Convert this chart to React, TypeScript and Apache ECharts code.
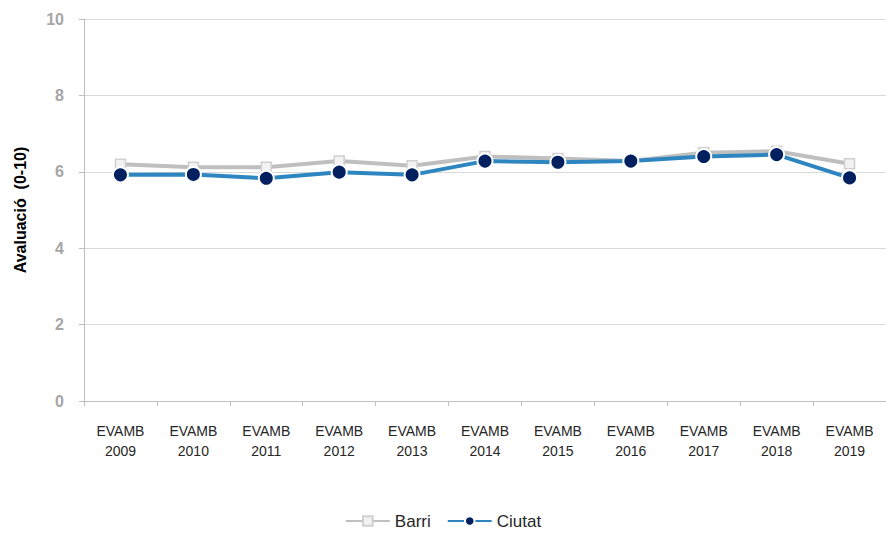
import React, { useEffect, useRef } from "react";
import * as echarts from "echarts";

const categories = ["EVAMB\n2009", "EVAMB\n2010", "EVAMB\n2011", "EVAMB\n2012", "EVAMB\n2013", "EVAMB\n2014", "EVAMB\n2015", "EVAMB\n2016", "EVAMB\n2017", "EVAMB\n2018", "EVAMB\n2019"];
const barri = [6.2, 6.12, 6.12, 6.28, 6.16, 6.4, 6.35, 6.28, 6.5, 6.54, 6.21];
const ciutat = [5.92, 5.93, 5.83, 5.99, 5.92, 6.28, 6.25, 6.28, 6.4, 6.45, 5.84];
const yTicks = { min: 0, max: 10, interval: 2 };

export default function App() {
  const ref = useRef<HTMLDivElement>(null);
  useEffect(() => {
    if (!ref.current) return;
    const chart = echarts.init(ref.current, null, { renderer: "svg" });
    chart.setOption({
      animation: false,
      backgroundColor: "#ffffff",
      textStyle: { fontFamily: "Liberation Sans" },
      grid: { left: 84, right: 0, top: 19, bottom: 132, containLabel: false },
      legend: {
        top: 511,
        left: "center",
        padding: 0,
        itemWidth: 44,
        itemHeight: 12,
        itemGap: 16,
        textStyle: { fontSize: 17, lineHeight: 20, color: "#262626", fontFamily: "Liberation Sans" },
        data: ["Barri", "Ciutat"],
      },
      xAxis: {
        type: "category",
        data: categories,
        boundaryGap: true,
        axisLine: { lineStyle: { color: "#BFBFBF", width: 1 } },
        axisTick: { show: true, length: 5, alignWithLabel: false, lineStyle: { color: "#BFBFBF" } },
        axisLabel: { color: "#262626", fontSize: 14, lineHeight: 20, margin: 20, interval: 0 },
        splitLine: { show: false },
      },
      yAxis: {
        type: "value",
        min: yTicks.min,
        max: yTicks.max,
        interval: yTicks.interval,
        name: "Avaluació  (0-10)",
        nameLocation: "middle",
        nameGap: 56,
        nameTextStyle: { color: "#000000", fontWeight: "bold", fontSize: 16 },
        axisLine: { show: true, lineStyle: { color: "#BFBFBF" } },
        axisTick: { show: true, length: 5, lineStyle: { color: "#BFBFBF" } },
        axisLabel: { color: "#A6A6A6", fontWeight: "bold", fontSize: 16, margin: 20 },
        splitLine: { show: true, lineStyle: { color: "#D9D9D9", width: 1 } },
      },
      series: [
        {
          name: "Barri",
          type: "line",
          data: barri,
          symbol: "rect",
          symbolSize: 10,
          z: 2,
          lineStyle: { color: "#BFBFBF", width: 4 },
          itemStyle: { color: "#F2F2F2", borderColor: "#D0D0D0", borderWidth: 1.5 },
        },
        {
          name: "Ciutat",
          type: "line",
          data: ciutat,
          symbol: "circle",
          symbolSize: 15,
          z: 3,
          lineStyle: { color: "#2E86C1", width: 4 },
          itemStyle: { color: "#002060", borderColor: "#ffffff", borderWidth: 2 },
        },
      ],
    });
    return () => chart.dispose();
  }, []);
  return <div ref={ref} style={{ position: "fixed", left: 0, top: 0, width: 886, height: 533 }} />;
}
